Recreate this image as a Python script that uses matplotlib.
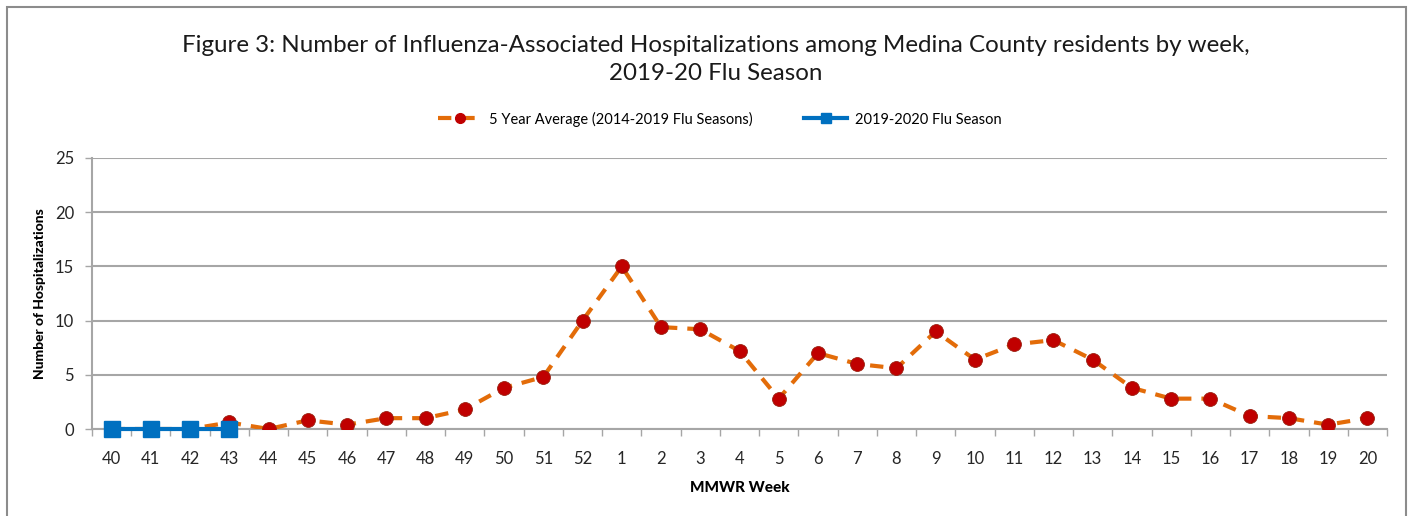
import numpy as np
import matplotlib
matplotlib.use('Agg')
import matplotlib.pyplot as plt
from matplotlib.patches import Rectangle
from matplotlib.lines import Line2D

plt.rcParams['font.family'] = ['Lato', 'DejaVu Sans']

# MMWR weeks, 2019-20 season
weeks = [str(w) for w in range(40, 53)] + [str(w) for w in range(1, 21)]

# 5 year average (2014-2019 flu seasons)
avg_5yr = [0.0, 0.0, 0.0, 0.6, 0.0, 0.8, 0.4, 1.0, 1.0, 1.8, 3.8, 4.8, 10.0,
           15.0, 9.4, 9.2, 7.2, 2.8, 7.0, 6.0, 5.6, 9.0, 6.4,
           7.8, 8.2, 6.4, 3.8, 2.8, 2.8, 1.2, 1.0, 0.4, 1.0]

# 2019-2020 season so far (weeks 40-43)
season_2019 = [0, 0, 0, 0]

W, H = 1411, 516
fig = plt.figure(figsize=(W / 100, H / 100), dpi=100)

# outer chart border
fig.patches.append(Rectangle((6.5 / W, -0.1), (1405.5 - 6.5) / W, 1.1 - 6.5 / H,
                             transform=fig.transFigure, fill=False,
                             edgecolor='#8c8c8c', linewidth=1.5))

ax = fig.add_axes([92 / W, 1 - 429 / H, (1387 - 92) / W, (429 - 158) / H])

x = np.arange(len(weeks))
orange = '#E36C09'
red = '#C00000'
blue = '#0070C0'

ax.plot(x, avg_5yr, color=orange, linestyle=(0, (3.2, 2.4)), linewidth=3,
        marker='o', markersize=10, markerfacecolor=red, markeredgecolor='#9a2010',
        markeredgewidth=0.6, zorder=3)
ax.plot(x[:len(season_2019)], season_2019, color=blue, linewidth=3,
        marker='s', markersize=11, markerfacecolor=blue, markeredgecolor=blue,
        zorder=4, clip_on=False)

ax.set_xlim(-0.5, len(weeks) - 0.5)
ax.set_ylim(0, 25)
ax.set_yticks([0, 5, 10, 15, 20, 25])
ax.set_xticks(x)
ax.set_xticklabels(weeks)
ax.set_xticks(np.arange(-0.5, len(weeks), 1), minor=True)
ax.tick_params(axis='x', which='major', length=0, pad=16, labelsize=12, colors='#262626')
ax.tick_params(axis='x', which='minor', length=5, width=1, color='#a6a6a6')
ax.tick_params(axis='y', length=5, width=1, color='#a6a6a6', pad=8, labelsize=12,
               labelcolor='#262626')

ax.grid(axis='y', color='#a6a6a6', linewidth=1.5)
ax.set_axisbelow(True)
for side in ['top', 'right']:
    ax.spines[side].set_visible(False)
for side in ['left', 'bottom']:
    ax.spines[side].set_color('#a6a6a6')
    ax.spines[side].set_linewidth(1.5)

ax.set_ylabel('Number of Hospitalizations', fontsize=10, fontweight='black', labelpad=6)
ax.set_xlabel('MMWR Week', fontsize=11, fontweight='black', labelpad=10)

fig.text(0.507, 1 - 45 / H, 'Figure 3: Number of Influenza-Associated Hospitalizations among Medina County residents by week,',
         ha='center', va='center', fontsize=17.4, color='#1a1a1a')
fig.text(0.507, 1 - 73 / H, '2019-20 Flu Season', ha='center', va='center', fontsize=17.4, color='#1a1a1a')

handles = [
    Line2D([], [], color=orange, linestyle=(0, (3.2, 2.4)), linewidth=3, marker='o',
           markersize=7, markerfacecolor=red, markeredgecolor=red),
    Line2D([], [], color=blue, linewidth=3, marker='s', markersize=7,
           markerfacecolor=blue, markeredgecolor=blue),
]
fig.legend(handles, ['5 Year Average (2014-2019 Flu Seasons)', '2019-2020 Flu Season'],
           loc='center', bbox_to_anchor=(0.51, 1 - 119 / H), ncol=2, frameon=False,
           fontsize=10.5, handlelength=3.0, columnspacing=3.5, handletextpad=0.5)

fig.savefig('out.png', dpi=100)
